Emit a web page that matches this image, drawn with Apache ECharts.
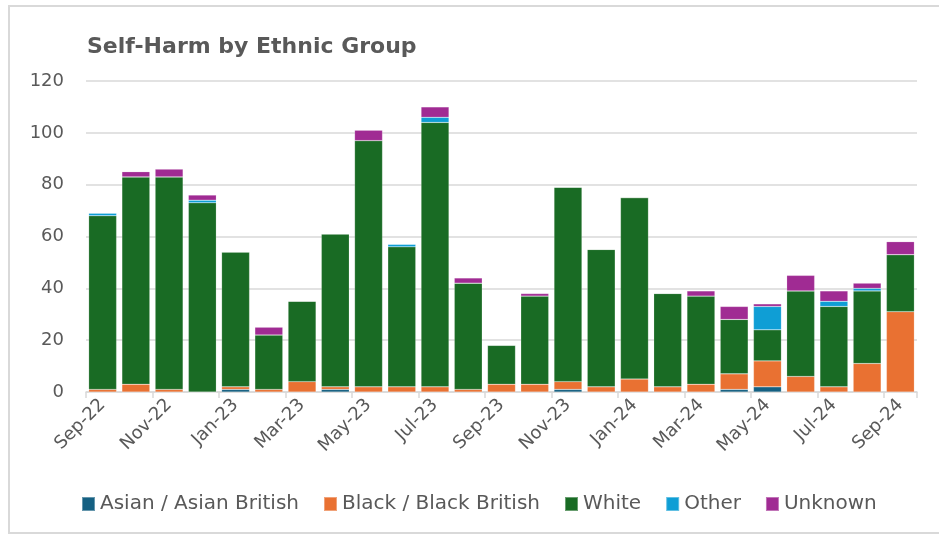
<!DOCTYPE html>
<html>
<head>
<meta charset="utf-8">
<script src="https://cdn.jsdelivr.net/npm/echarts@6/dist/echarts.min.js"></script>
<style>
html,body{margin:0;padding:0;background:#fff;}
#wrap{position:absolute;left:8px;top:5px;width:940px;height:529px;border:2px solid #d9d9d9;box-sizing:border-box;}
#c{position:absolute;left:0;top:0;width:939px;height:538px;}
</style>
</head>
<body>
<div id="wrap"></div>
<div id="c"></div>
<script>
const categories = ['Sep-22','Oct-22','Nov-22','Dec-22','Jan-23','Feb-23','Mar-23','Apr-23','May-23','Jun-23','Jul-23','Aug-23','Sep-23','Oct-23','Nov-23','Dec-23','Jan-24','Feb-24','Mar-24','Apr-24','May-24','Jun-24','Jul-24','Aug-24','Sep-24'];
const asian   = [0,0,0,0,1,0,0,1,0,0,0,0,0,0,1,0,0,0,0,1,2,0,0,0,0];
const black   = [1,3,1,0,1,1,4,1,2,2,2,1,3,3,3,2,5,2,3,6,10,6,2,11,31];
const white   = [67,80,82,73,52,21,31,59,95,54,102,41,15,34,75,53,70,36,34,21,12,33,31,28,22];
const other   = [1,0,0,1,0,0,0,0,0,1,2,0,0,0,0,0,0,0,0,0,9,0,2,1,0];
const unknown = [0,2,3,2,0,3,0,0,4,0,4,2,0,1,0,0,0,0,2,5,1,6,4,2,5];
const seriesNames = ['Asian / Asian British','Black / Black British','White','Other','Unknown'];
const colors = ['#156082','#E97132','#196B24','#0F9ED5','#A02B93'];
const yTicks = [0,20,40,60,80,100,120];

const chart = echarts.init(document.getElementById('c'));
const txt = '#595959';
const font = "'DejaVu Sans', 'Open Sans', sans-serif";
const dataSets = [asian, black, white, other, unknown];
chart.setOption({
  animation:false,
  textStyle:{fontFamily:font},
  title:{text:'Self-Harm by Ethnic Group', left:82, top:31,
    textStyle:{fontSize:22, fontWeight:'bold', color:txt, fontFamily:font}},
  legend:{bottom:19, left:76, itemWidth:13, itemHeight:14, itemGap:24, icon:'rect',
    textStyle:{fontSize:20, color:txt, fontFamily:font},
    data:seriesNames},
  grid:{left:86, right:22, top:81, bottom:146},
  xAxis:{type:'category', data:categories, boundaryGap:true,
    axisLine:{lineStyle:{color:'#d9d9d9', width:1.5}},
    axisTick:{show:true, interval:1, length:6, lineStyle:{color:'#d9d9d9', width:1.5}},
    axisLabel:{interval:1, rotate:45, fontSize:18, color:txt, fontFamily:font, margin:10}},
  yAxis:{type:'value', min:yTicks[0], max:yTicks[yTicks.length-1], interval:20,
    axisLine:{show:false}, axisTick:{show:false},
    axisLabel:{fontSize:18, color:txt, fontFamily:font, margin:22},
    splitLine:{lineStyle:{color:'#d9d9d9', width:1.5}}},
  series: seriesNames.map((n,i)=>({
    name:n, type:'bar', stack:'total', data:dataSets[i], barCategoryGap:'16%',
    itemStyle:{color:colors[i], borderColor:'rgba(255,255,255,0.35)', borderWidth:0.5}
  }))
});
</script>
</body>
</html>
